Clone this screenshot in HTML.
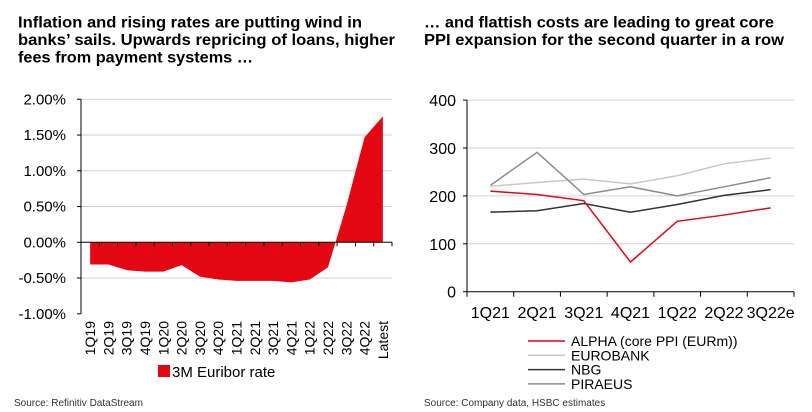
<!DOCTYPE html>
<html><head><meta charset="utf-8"><style>
html,body{margin:0;padding:0;background:#fff;}
svg{display:block;font-family:"Liberation Sans Narrow","Liberation Sans",Arial,sans-serif;}
.ttl{font-family:"Liberation Sans",Arial,sans-serif;font-weight:bold;font-size:16px;}
</style></head><body>
<svg id="s" width="812" height="412" viewBox="0 0 812 412">
<g class="ttl" fill="#000">
<text x="18" y="27.5" textLength="344" lengthAdjust="spacingAndGlyphs">Inflation and rising rates are putting wind in</text>
<text x="18" y="45" textLength="377" lengthAdjust="spacingAndGlyphs">banks’ sails. Upwards repricing of loans, higher</text>
<text x="18" y="62.5" textLength="235" lengthAdjust="spacingAndGlyphs">fees from payment systems …</text>
</g>
<g class="ttl" fill="#000">
<text x="424" y="27.5" textLength="350" lengthAdjust="spacingAndGlyphs">… and flattish costs are leading to great core</text>
<text x="424" y="45" textLength="360" lengthAdjust="spacingAndGlyphs">PPI expansion for the second quarter in a row</text>
</g>
<g id="left"></g>
<g id="right"></g>
<text x="14" y="406" font-size="10" fill="#333">Source: Refinitiv DataStream</text>
<text x="424" y="406" font-size="10" fill="#333">Source: Company data, HSBC estimates</text>
</svg>
<script>
const leftCategories=["1Q19","2Q19","3Q19","4Q19","1Q20","2Q20","3Q20","4Q20","1Q21","2Q21","3Q21","4Q21","1Q22","2Q22","3Q22","4Q22","Latest"];
const euriborValues=[-0.31,-0.31,-0.39,-0.41,-0.41,-0.32,-0.48,-0.52,-0.54,-0.54,-0.54,-0.56,-0.52,-0.35,0.50,1.47,1.76];
const leftTicks=[2,1.5,1,0.5,0,-0.5,-1];
const leftTickLabels=["2.00%","1.50%","1.00%","0.50%","0.00%","-0.50%","-1.00%"];

const rightCategories=["1Q21","2Q21","3Q21","4Q21","1Q22","2Q22","3Q22e"];
const alphaValues=[210,203,190,62,147,160,175];
const eurobankValues=[220,228,235,225,242,267,279];
const nbgValues=[166,169,184,166,182,201,213];
const piraeusValues=[222,291,203,219,200,219,238];
const rightTicks=[400,300,200,100,0];
const seriesNames=["ALPHA (core PPI (EURm))","EUROBANK","NBG","PIRAEUS"];

const NS="http://www.w3.org/2000/svg";
function mk(tag,attrs,parent,text){const e=document.createElementNS(NS,tag);for(const k in attrs)e.setAttribute(k,attrs[k]);if(text!==undefined)e.textContent=text;parent.appendChild(e);return e;}

// LEFT
const L=document.getElementById('left');
const lx0=81,lx1=392,ly=v=>242.3-v*71.5;
const lbw=(lx1-lx0)/leftCategories.length;
const lxc=i=>lx0+lbw*(i+0.5);
leftTicks.forEach((t,i)=>{
  if(t!==0&&t!==-1){const g=mk('line',{x1:lx0,x2:lx1,y1:ly(t),y2:ly(t),stroke:'#d0d0d0','stroke-width':1},L);
  
  }
  const tx=mk('text',{x:66,y:ly(t)+5,'font-size':15,'text-anchor':'end',fill:'#000'},L,leftTickLabels[i]);
  
  
});
let d='M'+lxc(0)+','+ly(0);
euriborValues.forEach((v,i)=>{d+=' L'+lxc(i)+','+ly(v);});
d+=' L'+lxc(euriborValues.length-1)+','+ly(0)+' Z';
const area=mk('path',{d:d,fill:'#e30613'},L);


const yax=mk('line',{x1:lx0,x2:lx0,y1:ly(2),y2:ly(-1),stroke:'#000','stroke-width':1},L);


leftTicks.forEach(t=>{mk('line',{x1:lx0-4,x2:lx0,y1:ly(t),y2:ly(t),stroke:'#000'},L);});
const xax=mk('line',{x1:lx0,x2:lx1,y1:ly(0),y2:ly(0),stroke:'#000','stroke-width':1},L);


for(let i=0;i<=leftCategories.length;i++){mk('line',{x1:lx0+lbw*i,x2:lx0+lbw*i,y1:ly(0),y2:ly(0)+4,stroke:'#000'},L);}
leftCategories.forEach((c,i)=>{
  const t=mk('text',{x:0,y:0,'font-size':14,'text-anchor':'end',transform:'translate('+(lxc(i)+5)+',321) rotate(-90)',fill:'#000'},L,c);
  
  
});
const lsw=mk('rect',{x:158,y:365,width:12,height:12,fill:'#e30613'},L);


const llt=mk('text',{x:172,y:377,'font-size':15,fill:'#000'},L,'3M Euribor rate');



// RIGHT
const R=document.getElementById('right');
const rx0=467,rx1=794,ry=v=>291.7-v*0.479;
const rbw=(rx1-rx0)/rightCategories.length;
const rxc=i=>rx0+rbw*(i+0.5);
rightTicks.forEach(t=>{
  if(t!==0){const g=mk('line',{x1:rx0,x2:rx1,y1:ry(t),y2:ry(t),stroke:'#d0d0d0'},R);
  
  }
  mk('line',{x1:rx0-4,x2:rx0,y1:ry(t),y2:ry(t),stroke:'#000'},R);
  const tx=mk('text',{x:456,y:ry(t)+6,'font-size':16,'text-anchor':'end',fill:'#000'},R,String(t));
  
  
});
const ryax=mk('line',{x1:rx0,x2:rx0,y1:ry(400),y2:ry(0),stroke:'#000'},R);


const rxax=mk('line',{x1:rx0,x2:rx1,y1:ry(0),y2:ry(0),stroke:'#000'},R);


for(let i=0;i<=rightCategories.length;i++){mk('line',{x1:rx0+rbw*i,x2:rx0+rbw*i,y1:ry(0),y2:ry(0)+5,stroke:'#000'},R);}
rightCategories.forEach((c,i)=>{
  const t=mk('text',{x:rxc(i),y:318,'font-size':16,'text-anchor':'middle',fill:'#000'},R,c);
  
  
});
const series=[eurobankValues,piraeusValues,nbgValues,alphaValues];
const colors=['#c8c8c8','#8c8c8c','#333333','#e30613'];
const names=['eurobank-line','piraeus-line','nbg-line','alpha-line'];
series.forEach((vals,s)=>{
  const pts=vals.map((v,i)=>rxc(i)+','+ry(v)).join(' ');
  const pl=mk('polyline',{points:pts,fill:'none',stroke:colors[s],'stroke-width':1.5},R);
  
  
});
const legColors=['#e30613','#c8c8c8','#333333','#8c8c8c'];
seriesNames.forEach((n,i)=>{
  const y=341+i*14.3;
  const ln=mk('line',{x1:528,x2:565,y1:y,y2:y,stroke:legColors[i],'stroke-width':1.5},R);
  
  
  const t=mk('text',{x:571,y:y+5,'font-size':14,fill:'#000'},R,n);
  
  
});
</script>
</body></html>
